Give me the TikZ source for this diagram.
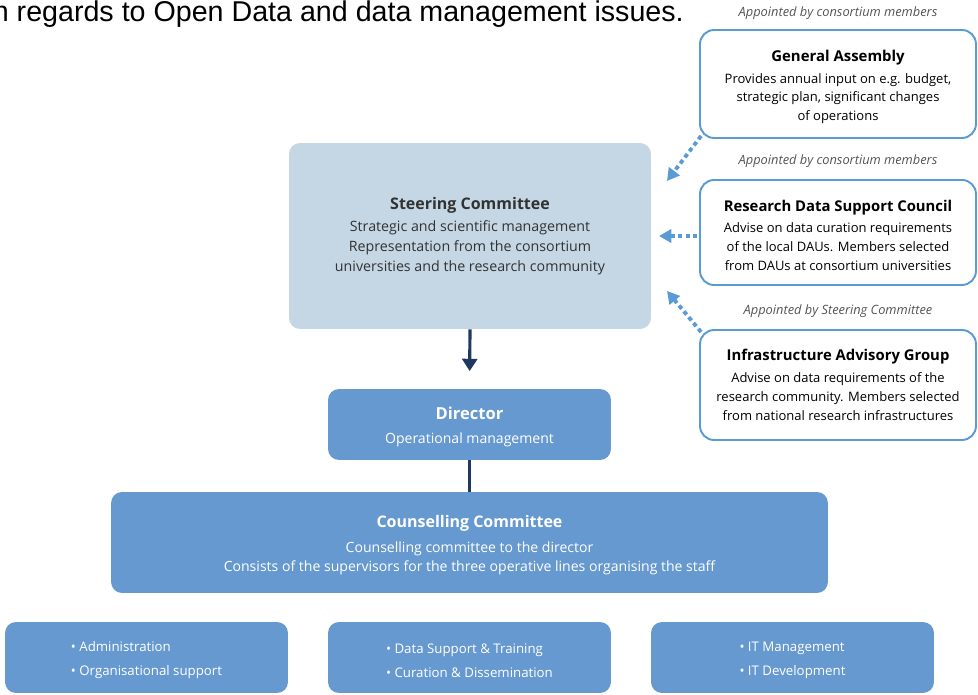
\documentclass[tikz,border=0pt]{standalone}
\usepackage{fontspec}
\setmainfont{Open Sans}
\newfontfamily\introfont{Liberation Sans}
\usetikzlibrary{arrows.meta}

\definecolor{steerfill}{RGB}{197,215,228}
\definecolor{staffblue}{RGB}{102,153,207}
\definecolor{edgeblue}{RGB}{91,155,213}
\definecolor{navyline}{RGB}{31,56,96}
\definecolor{inkgray}{RGB}{50,50,50}
\definecolor{capgray}{RGB}{85,85,85}

\tikzset{
  steerbox/.style={fill=steerfill, rounded corners=0.22cm, text=inkgray, align=center, inner sep=0pt},
  staffbox/.style={fill=staffblue, rounded corners=0.22cm, text=white, align=center, inner sep=0pt},
  boardbox/.style={draw=edgeblue, line width=1.1pt, fill=white, rounded corners=0.28cm, text=black, align=center, inner sep=0pt},
  caption/.style={text=capgray, font=\fontsize{7.3}{9}\selectfont\itshape},
  dotarrow/.style={edgeblue, line width=2.2pt, dash pattern=on 2.4pt off 1.9pt, -{Triangle[length=7pt,width=7.5pt]}},
}

\begin{document}
\begin{tikzpicture}[x=0.02cm, y=-0.02cm]
			%%%%% START %%%%%
			
			\useasboundingbox (0,0) rectangle (978,695);
			
			\node[anchor=base east, font=\introfont\fontsize{16.3}{19}\selectfont] (intro) at (690,22) {in regards to Open Data and data management issues.};
			
			% governing bodies
			\node[steerbox, minimum width=7.24cm, minimum height=3.72cm, font=\fontsize{8.1}{11.3}\selectfont] (steer) at (470,236)
				{{\bfseries\fontsize{9.1}{10}\selectfont Steering Committee}\\[1.5pt]
				Strategic and scientific management\\
				Representation from the consortium\\
				universities and the research community};
			
			\node[caption] (gacap) at (838,13) {Appointed by consortium members};
			\node[boardbox, minimum width=5.52cm, minimum height=2.16cm, font=\fontsize{7.4}{10.6}\selectfont] (ga) at (838,84)
				{\rule{0pt}{10pt}{\bfseries\fontsize{8.5}{10}\selectfont General Assembly}\\[1.5pt]
				Provides annual input on e.g. budget,\\
				strategic plan, significant changes\\
				of operations};
			
			\node[caption] (rdsccap) at (838,161) {Appointed by consortium members};
			\node[boardbox, minimum width=5.52cm, minimum height=2.1cm, font=\fontsize{7.4}{10.7}\selectfont] (rdsc) at (838,232.5)
				{\rule{0pt}{9.5pt}{\bfseries\fontsize{8.45}{10}\selectfont Research Data Support Council}\\[1.5pt]
				Advise on data curation requirements\\
				of the local DAUs. Members selected\\
				from DAUs at consortium universities};
			
			\node[caption] (iagcap) at (838,311) {Appointed by Steering Committee};
			\node[boardbox, minimum width=5.52cm, minimum height=2.2cm, font=\fontsize{7.4}{10.8}\selectfont] (iag) at (838,385)
				{{\bfseries\fontsize{8.45}{10}\selectfont Infrastructure Advisory Group}\\[1.5pt]
				Advise on data requirements of the\\
				research community. Members selected\\
				from national research infrastructures};
			
			% operations
			\node[staffbox, minimum width=5.66cm, minimum height=1.42cm, font=\fontsize{8}{11}\selectfont] (director) at (469.5,424.5)
				{\rule{0pt}{10pt}{\bfseries\fontsize{9.4}{10}\selectfont Director}\\[3pt]
				Operational management};
			
			\node[staffbox, minimum width=14.34cm, minimum height=2.02cm, font=\fontsize{8}{11.2}\selectfont] (counsel) at (469.5,542.5)
				{\rule{0pt}{10pt}{\bfseries\fontsize{9.1}{10}\selectfont Counselling Committee}\\[3pt]
				Counselling committee to the director\\
				Consists of the supervisors for the three operative lines organising the staff};
			
			\node[staffbox, align=left, minimum width=5.66cm, minimum height=1.42cm, font=\fontsize{7.55}{13.5}\selectfont] (admin) at (146.5,657.5)
				{\rule{0pt}{9pt}• Administration\\ • Organisational support};
			\node[staffbox, align=left, minimum width=5.66cm, minimum height=1.42cm, font=\fontsize{7.55}{13.5}\selectfont] (curation) at (469.5,657.5)
				{\rule{0pt}{9pt}• Data Support \& Training\\ • Curation \& Dissemination};
			\node[staffbox, align=left, minimum width=5.66cm, minimum height=1.42cm, font=\fontsize{7.55}{13.5}\selectfont] (itops) at (792.5,657.5)
				{\rule{0pt}{9pt}• IT Management\\ • IT Development};
			
			% connectors
			\coordinate (gatip) at (667,181);
			\coordinate (rdsctip) at (659,236);
			\coordinate (iagtip) at (667,291);
			\draw[dotarrow] ([shift={(2,-3)}]ga.south west) -- (gatip);
			\draw[dotarrow] ([xshift=-1]rdsc.west |- rdsctip) -- (rdsctip);
			\draw[dotarrow] ([shift={(2,3)}]iag.north west) -- (iagtip);
			
			\draw[navyline, line width=1.8pt, -{Triangle[length=7pt,width=8.5pt]}, shorten >=10] (steer.south) -- (director.north);
			\draw[navyline, line width=1.8pt] (director.south) -- (counsel.north);
			
			%%%%% END %%%%%
		\end{tikzpicture}
\end{document}
